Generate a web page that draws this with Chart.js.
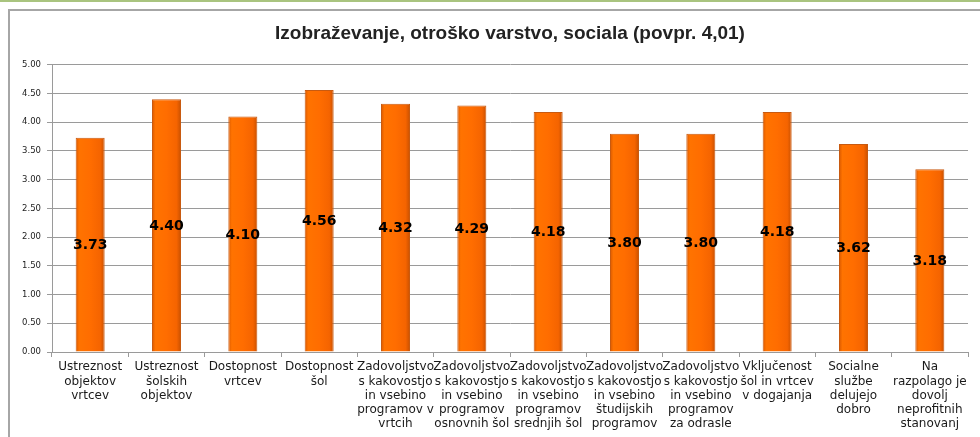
<!DOCTYPE html>
<html>
<head>
<meta charset="utf-8">
<script src="https://cdn.jsdelivr.net/npm/chart.js@4.4.1/dist/chart.umd.min.js"></script>
<style>
    html, body { margin: 0; padding: 0; background: #fff; }
    #topline { position: absolute; left: 0; top: 0; width: 980px; height: 2px; background: #a9c47f; }
    #frame { position: absolute; left: 8px; top: 9px; width: 990px; height: 440px;
             border-left: 2px solid #a6a6a6; border-top: 2px solid #a6a6a6; }
    #wrap { position: absolute; left: 0; top: 0; width: 980px; height: 437px; }
</style>
</head>
<body>
<div id="topline"></div>
<div id="frame"></div>
<div id="wrap"><canvas id="chart" width="980" height="437"></canvas></div>
<script>
const chartTitle = "Izobraževanje, otroško varstvo, sociala (povpr. 4,01)";

const categories = [
    ["Ustreznost", "objektov", "vrtcev"],
    ["Ustreznost", "šolskih", "objektov"],
    ["Dostopnost", "vrtcev"],
    ["Dostopnost", "šol"],
    ["Zadovoljstvo", "s kakovostjo", "in vsebino", "programov v", "vrtcih"],
    ["Zadovoljstvo", "s kakovostjo", "in vsebino", "programov", "osnovnih šol"],
    ["Zadovoljstvo", "s kakovostjo", "in vsebino", "programov", "srednjih šol"],
    ["Zadovoljstvo", "s kakovostjo", "in vsebino", "študijskih", "programov"],
    ["Zadovoljstvo", "s kakovostjo", "in vsebino", "programov", "za odrasle"],
    ["Vključenost", "šol in vrtcev", "v dogajanja"],
    ["Socialne", "službe", "delujejo", "dobro"],
    ["Na", "razpolago je", "dovolj", "neprofitnih", "stanovanj"],
];

const values = [3.73, 4.40, 4.10, 4.56, 4.32, 4.29, 4.18, 3.80, 3.80, 4.18, 3.62, 3.18];

const yMin = 0;
const yMax = 5;
const yStep = 0.5;

// orange bars with darker edges, built once the x scale knows where the bars sit
const barShade = {
    id: "barShade",
    afterLayout(chart) {
        const xs = chart.scales.x;
        const ctx = chart.ctx;
        const half = (xs.width / values.length) * 0.38 / 2;
        chart.data.datasets[0].backgroundColor = values.map((v, i) => {
            const cx = xs.getPixelForValue(i);
            const g = ctx.createLinearGradient(cx - half, 0, cx + half, 0);
            g.addColorStop(0, "#d95800");
            g.addColorStop(0.12, "#ff7300");
            g.addColorStop(0.5, "#ff6d00");
            g.addColorStop(0.85, "#f56400");
            g.addColorStop(1, "#c85000");
            return g;
        });
    },
};

const valueLabels = {
    id: "valueLabels",
    afterDatasetsDraw(chart) {
        const ctx = chart.ctx;
        const meta = chart.getDatasetMeta(0);
        ctx.save();
        ctx.font = "bold 14px 'DejaVu Sans'";
        ctx.fillStyle = "#000";
        ctx.textAlign = "center";
        ctx.textBaseline = "middle";
        meta.data.forEach((bar, i) => {
            ctx.fillText(values[i].toFixed(2), bar.x, (bar.y + bar.base) / 2 + 1);
        });
        ctx.restore();
    },
};

new Chart(document.getElementById("chart"), {
    type: "bar",
    data: {
        labels: categories,
        datasets: [{
            data: values,
            backgroundColor: "#ff6d00",
            borderColor: "#c85a10",
            borderWidth: 1,
            barPercentage: 0.38,
            categoryPercentage: 1,
        }],
    },
    options: {
        responsive: false,
        animation: false,
        layout: { padding: { left: 0, right: 12, top: 0, bottom: 0 } },
        scales: {
            x: {
                grid: {
                    offset: true,
                    drawOnChartArea: false,
                    drawTicks: true,
                    tickLength: 5,
                    color: "#9a9a9a",
                },
                border: { color: "#9a9a9a", width: 1 },
                ticks: {
                    autoSkip: false,
                    maxRotation: 0,
                    minRotation: 0,
                    padding: 3,
                    color: "#1a1a1a",
                    font: { family: "'DejaVu Sans'", size: 12, lineHeight: 1.19 },
                },
                afterFit(scale) { scale.height = 85; },
            },
            y: {
                min: yMin,
                max: yMax,
                grid: { color: "#9a9a9a", lineWidth: 1, tickLength: 5 },
                border: { color: "#9a9a9a", width: 1 },
                ticks: {
                    stepSize: yStep,
                    padding: 6,
                    color: "#222",
                    font: { family: "'DejaVu Sans'", size: 8.5 },
                    callback: (v) => v.toFixed(2),
                },
                afterFit(scale) { scale.width = 52; },
            },
        },
        plugins: {
            legend: { display: false },
            tooltip: { enabled: false },
            title: {
                display: true,
                fullSize: false,
                text: chartTitle,
                color: "#222",
                font: { family: "'Liberation Sans'", size: 19, weight: "bold", lineHeight: 1.2 },
                padding: { top: 22, bottom: 20 },
            },
        },
    },
    plugins: [barShade, valueLabels],
});
</script>
</body>
</html>
